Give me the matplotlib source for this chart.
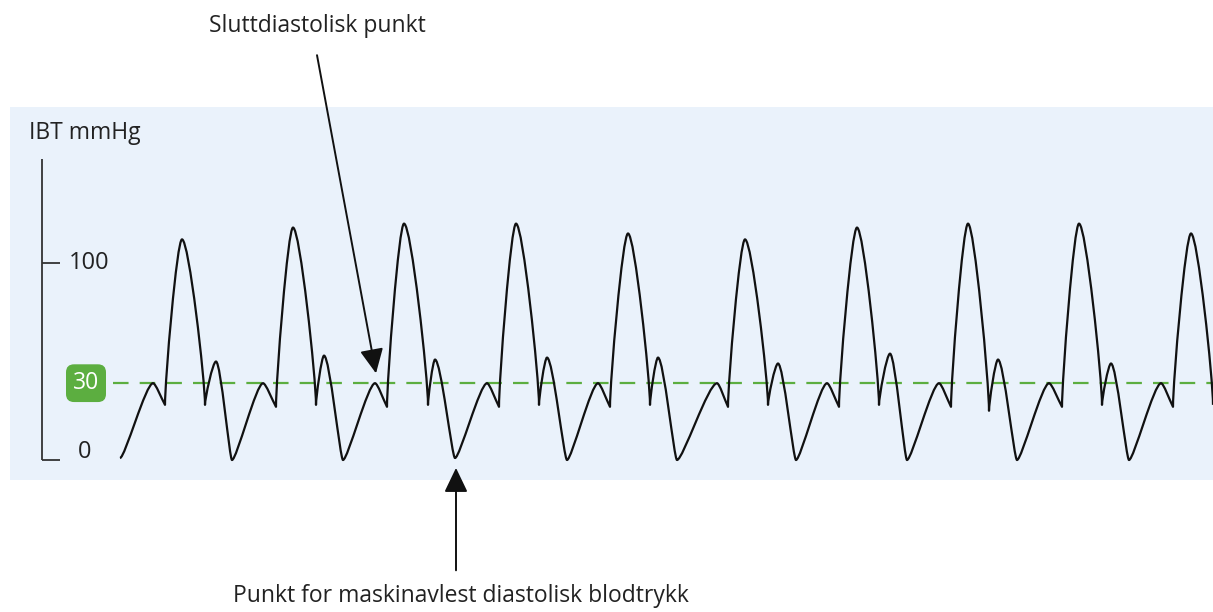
import matplotlib.pyplot as plt
from matplotlib.path import Path
from matplotlib.patches import PathPatch

# Beat landmarks (x in time units, y in mmHg scale units)
trough_x = [120, 232, 343, 455, 567, 677, 796, 907, 1017, 1129]
trough_y = [1, 0, 0, 1, 0, 0, 0, 0, 0, 0]
hump_x = [153, 263, 375, 487, 598, 717, 827, 939, 1049, 1161]
hump_y = [39, 39, 39, 39, 39, 39, 39, 39, 39, 39]
notch_a_x = [165, 276, 387, 499, 610, 728, 839, 951, 1062, 1173]
notch_a_y = [28, 27, 27, 27, 27, 27, 27, 27, 27, 27]
peak_x = [182, 293, 404, 516, 628, 745, 857, 968, 1079, 1191]
peak_y = [112, 118, 120, 120, 115, 112, 118, 120, 120, 115]
notch_b_x = [205, 316, 428, 539, 650, 768, 879, 989, 1102, 1213]
notch_b_y = [28, 28, 28, 28, 28, 28, 28, 25, 28, 28]
dicrotic_x = [216, 324, 435, 547, 658, 778, 890, 998, 1111]
dicrotic_y = [50, 53, 51, 52, 52, 49, 54, 51, 49]

threshold = 39          # where the dashed "30" line sits on this scale
threshold_label = '30'
axis_ticks = [0, 100]

text_color = '#222222'
green = '#5cae40'
panel_color = '#eaf2fb'

plt.rcParams['font.family'] = ['Open Sans', 'DejaVu Sans']

fig = plt.figure(figsize=(12.13, 6.12), dpi=100)
ax = fig.add_axes([10 / 1213, 1 - 480 / 612, 1203 / 1213, 373 / 612])
ax.set_facecolor(panel_color)
ax.set_xlim(10, 1213)
ax.set_ylim(-10.15, 179.2)
ax.set_xticks([])
ax.set_yticks([])
for s in ax.spines.values():
    s.set_visible(False)

# Assemble the trace: trough, hump, notch, peak, notch, dicrotic hump, ...
points = []
kinds = []
for i in range(len(trough_x)):
    points.append((trough_x[i], trough_y[i]))
    kinds.append('trough')
    points.append((hump_x[i], hump_y[i]))
    kinds.append('hump')
    points.append((notch_a_x[i], notch_a_y[i]))
    kinds.append('notch')
    points.append((peak_x[i], peak_y[i]))
    kinds.append('peak')
    points.append((notch_b_x[i], notch_b_y[i]))
    kinds.append('notch')
    if i < len(dicrotic_x):
        points.append((dicrotic_x[i], dicrotic_y[i]))
        kinds.append('dicrotic')

# Bezier handles: flat at the turning points, steep at the notches
flat = {'trough': 0.15, 'hump': 0.22, 'peak': 0.3, 'dicrotic': 0.3}


def handle(i, j):
    (x, y), (qx, qy) = points[i], points[j]
    k = kinds[i]
    if k in flat:
        return (x + flat[k] * (qx - x), y)
    if kinds[j] in ('peak', 'dicrotic'):
        return (x, y + 0.15 * (qy - y))
    return (x + 0.3 * (qx - x), y + 0.3 * (qy - y))


verts = [points[0]]
codes = [Path.MOVETO]
for i in range(len(points) - 1):
    verts += [handle(i, i + 1), handle(i + 1, i), points[i + 1]]
    codes += [Path.CURVE4] * 3

ax.add_patch(PathPatch(Path(verts, codes), fill=False, lw=1.6,
                       edgecolor='#111111', joinstyle='round', zorder=3))

# dashed threshold line with green label
ax.plot([113, 1213], [threshold, threshold], color=green, lw=1.6,
        dashes=(7, 5), zorder=2)
ax.text(86, threshold, threshold_label, color='white', fontsize=16.5,
        ha='center', va='center',
        bbox=dict(boxstyle='round,pad=0.3,rounding_size=0.35',
                  facecolor=green, edgecolor='none'))

# hand drawn y axis
ax.plot([42, 42], [153, 0], color='#333333', lw=1.3, solid_capstyle='butt')
for t in axis_ticks:
    ax.plot([42, 60], [t, t], color='#333333', lw=1.3, solid_capstyle='butt')
ax.text(69, 100, '100', fontsize=17, color=text_color, ha='left', va='center')
ax.text(78, 4, '0', fontsize=17, color=text_color, ha='left', va='center')
ax.text(29, 163, 'IBT mmHg', fontsize=16.5, color=text_color,
        ha='left', va='baseline')

# annotations
arrow = dict(arrowstyle='-|>,head_length=0.75,head_width=0.36',
             mutation_scale=20, lw=1.4, color='#111111',
             shrinkA=0, shrinkB=0)
ax.annotate('', xy=(376, 44), xytext=(317, 205.5), arrowprops=arrow,
            annotation_clip=False)
fig.text(317 / 1213, 1 - 26 / 612, 'Sluttdiastolisk punkt', fontsize=16.5,
         color=text_color, ha='center', va='center')

ax.annotate('', xy=(456, -4), xytext=(456, -56), arrowprops=arrow,
            annotation_clip=False)
fig.text(461 / 1213, 1 - 596 / 612, 'Punkt for maskinavlest diastolisk blodtrykk',
         fontsize=16.5, color=text_color, ha='center', va='center')

fig.savefig('out.png', dpi=100)
